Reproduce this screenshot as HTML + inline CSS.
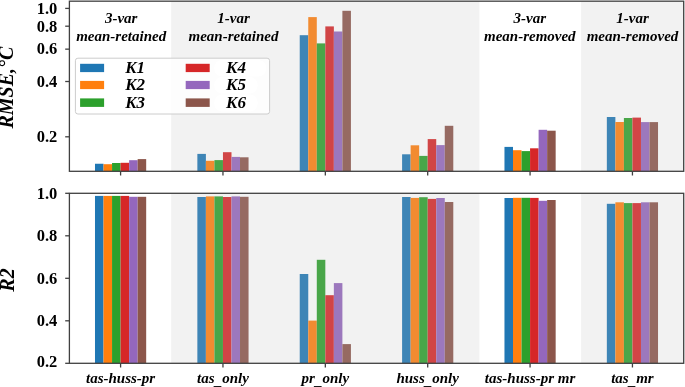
<!DOCTYPE html>
<html><head><meta charset="utf-8"><style>html,body{margin:0;padding:0;background:#fff;width:685px;height:387px;overflow:hidden}svg{display:block;will-change:transform}</style></head>
<body>
<svg width="685" height="387" viewBox="0 0 685 387">
<rect x="0" y="0" width="685" height="387" fill="#fff"/>
<rect x="94.99" y="163.75" width="8.53" height="7.55" fill="#1f77b4"/>
<rect x="103.52" y="164.20" width="8.53" height="7.10" fill="#ff7f0e"/>
<rect x="112.05" y="163.00" width="8.53" height="8.30" fill="#2ca02c"/>
<rect x="120.59" y="162.80" width="8.53" height="8.50" fill="#d62728"/>
<rect x="129.12" y="160.20" width="8.53" height="11.10" fill="#9467bd"/>
<rect x="137.65" y="159.10" width="8.53" height="12.20" fill="#8c564b"/>
<rect x="197.36" y="153.90" width="8.53" height="17.40" fill="#1f77b4"/>
<rect x="205.89" y="160.80" width="8.53" height="10.50" fill="#ff7f0e"/>
<rect x="214.42" y="160.10" width="8.53" height="11.20" fill="#2ca02c"/>
<rect x="222.96" y="152.20" width="8.53" height="19.10" fill="#d62728"/>
<rect x="231.49" y="156.90" width="8.53" height="14.40" fill="#9467bd"/>
<rect x="240.02" y="157.30" width="8.53" height="14.00" fill="#8c564b"/>
<rect x="299.73" y="35.20" width="8.53" height="136.10" fill="#1f77b4"/>
<rect x="308.26" y="17.10" width="8.53" height="154.20" fill="#ff7f0e"/>
<rect x="316.79" y="43.40" width="8.53" height="127.90" fill="#2ca02c"/>
<rect x="325.33" y="26.40" width="8.53" height="144.90" fill="#d62728"/>
<rect x="333.86" y="31.50" width="8.53" height="139.80" fill="#9467bd"/>
<rect x="342.39" y="10.80" width="8.53" height="160.50" fill="#8c564b"/>
<rect x="402.10" y="154.30" width="8.53" height="17.00" fill="#1f77b4"/>
<rect x="410.63" y="145.30" width="8.53" height="26.00" fill="#ff7f0e"/>
<rect x="419.16" y="155.90" width="8.53" height="15.40" fill="#2ca02c"/>
<rect x="427.70" y="139.10" width="8.53" height="32.20" fill="#d62728"/>
<rect x="436.23" y="145.10" width="8.53" height="26.20" fill="#9467bd"/>
<rect x="444.76" y="125.80" width="8.53" height="45.50" fill="#8c564b"/>
<rect x="504.47" y="146.90" width="8.53" height="24.40" fill="#1f77b4"/>
<rect x="513.00" y="150.20" width="8.53" height="21.10" fill="#ff7f0e"/>
<rect x="521.53" y="151.10" width="8.53" height="20.20" fill="#2ca02c"/>
<rect x="530.07" y="148.30" width="8.53" height="23.00" fill="#d62728"/>
<rect x="538.60" y="129.80" width="8.53" height="41.50" fill="#9467bd"/>
<rect x="547.13" y="130.70" width="8.53" height="40.60" fill="#8c564b"/>
<rect x="606.84" y="117.00" width="8.53" height="54.30" fill="#1f77b4"/>
<rect x="615.37" y="122.00" width="8.53" height="49.30" fill="#ff7f0e"/>
<rect x="623.90" y="118.00" width="8.53" height="53.30" fill="#2ca02c"/>
<rect x="632.44" y="117.60" width="8.53" height="53.70" fill="#d62728"/>
<rect x="640.97" y="122.10" width="8.53" height="49.20" fill="#9467bd"/>
<rect x="649.50" y="122.10" width="8.53" height="49.20" fill="#8c564b"/>
<rect x="171.20" y="1.18" width="308.20" height="170.12" fill="#c0c0c0" fill-opacity="0.2"/>
<rect x="581.10" y="1.18" width="102.60" height="170.12" fill="#c0c0c0" fill-opacity="0.2"/>
<rect x="94.99" y="195.90" width="8.53" height="167.40" fill="#1f77b4"/>
<rect x="103.52" y="195.90" width="8.53" height="167.40" fill="#ff7f0e"/>
<rect x="112.05" y="195.90" width="8.53" height="167.40" fill="#2ca02c"/>
<rect x="120.59" y="195.90" width="8.53" height="167.40" fill="#d62728"/>
<rect x="129.12" y="196.80" width="8.53" height="166.50" fill="#9467bd"/>
<rect x="137.65" y="196.80" width="8.53" height="166.50" fill="#8c564b"/>
<rect x="197.36" y="197.00" width="8.53" height="166.30" fill="#1f77b4"/>
<rect x="205.89" y="196.40" width="8.53" height="166.90" fill="#ff7f0e"/>
<rect x="214.42" y="196.40" width="8.53" height="166.90" fill="#2ca02c"/>
<rect x="222.96" y="197.00" width="8.53" height="166.30" fill="#d62728"/>
<rect x="231.49" y="196.40" width="8.53" height="166.90" fill="#9467bd"/>
<rect x="240.02" y="196.80" width="8.53" height="166.50" fill="#8c564b"/>
<rect x="299.73" y="274.00" width="8.53" height="89.30" fill="#1f77b4"/>
<rect x="308.26" y="320.60" width="8.53" height="42.70" fill="#ff7f0e"/>
<rect x="316.79" y="259.80" width="8.53" height="103.50" fill="#2ca02c"/>
<rect x="325.33" y="295.20" width="8.53" height="68.10" fill="#d62728"/>
<rect x="333.86" y="283.10" width="8.53" height="80.20" fill="#9467bd"/>
<rect x="342.39" y="344.10" width="8.53" height="19.20" fill="#8c564b"/>
<rect x="402.10" y="197.00" width="8.53" height="166.30" fill="#1f77b4"/>
<rect x="410.63" y="197.90" width="8.53" height="165.40" fill="#ff7f0e"/>
<rect x="419.16" y="197.20" width="8.53" height="166.10" fill="#2ca02c"/>
<rect x="427.70" y="198.90" width="8.53" height="164.40" fill="#d62728"/>
<rect x="436.23" y="198.00" width="8.53" height="165.30" fill="#9467bd"/>
<rect x="444.76" y="202.00" width="8.53" height="161.30" fill="#8c564b"/>
<rect x="504.47" y="198.00" width="8.53" height="165.30" fill="#1f77b4"/>
<rect x="513.00" y="197.80" width="8.53" height="165.50" fill="#ff7f0e"/>
<rect x="521.53" y="197.80" width="8.53" height="165.50" fill="#2ca02c"/>
<rect x="530.07" y="197.90" width="8.53" height="165.40" fill="#d62728"/>
<rect x="538.60" y="200.80" width="8.53" height="162.50" fill="#9467bd"/>
<rect x="547.13" y="200.00" width="8.53" height="163.30" fill="#8c564b"/>
<rect x="606.84" y="203.80" width="8.53" height="159.50" fill="#1f77b4"/>
<rect x="615.37" y="202.30" width="8.53" height="161.00" fill="#ff7f0e"/>
<rect x="623.90" y="203.10" width="8.53" height="160.20" fill="#2ca02c"/>
<rect x="632.44" y="203.10" width="8.53" height="160.20" fill="#d62728"/>
<rect x="640.97" y="202.30" width="8.53" height="161.00" fill="#9467bd"/>
<rect x="649.50" y="202.30" width="8.53" height="161.00" fill="#8c564b"/>
<rect x="171.20" y="193.30" width="308.20" height="170.00" fill="#c0c0c0" fill-opacity="0.2"/>
<rect x="581.10" y="193.30" width="102.60" height="170.00" fill="#c0c0c0" fill-opacity="0.2"/>
<rect x="69.40" y="1.18" width="614.30" height="170.12" fill="none" stroke="#404040" stroke-width="1.3"/>
<line x1="120.59" y1="171.30" x2="120.59" y2="175.50" stroke="#404040" stroke-width="1.3"/>
<line x1="222.96" y1="171.30" x2="222.96" y2="175.50" stroke="#404040" stroke-width="1.3"/>
<line x1="325.33" y1="171.30" x2="325.33" y2="175.50" stroke="#404040" stroke-width="1.3"/>
<line x1="427.70" y1="171.30" x2="427.70" y2="175.50" stroke="#404040" stroke-width="1.3"/>
<line x1="530.07" y1="171.30" x2="530.07" y2="175.50" stroke="#404040" stroke-width="1.3"/>
<line x1="632.44" y1="171.30" x2="632.44" y2="175.50" stroke="#404040" stroke-width="1.3"/>
<rect x="69.40" y="193.30" width="614.30" height="170.00" fill="none" stroke="#404040" stroke-width="1.3"/>
<line x1="120.59" y1="363.30" x2="120.59" y2="367.50" stroke="#404040" stroke-width="1.3"/>
<line x1="222.96" y1="363.30" x2="222.96" y2="367.50" stroke="#404040" stroke-width="1.3"/>
<line x1="325.33" y1="363.30" x2="325.33" y2="367.50" stroke="#404040" stroke-width="1.3"/>
<line x1="427.70" y1="363.30" x2="427.70" y2="367.50" stroke="#404040" stroke-width="1.3"/>
<line x1="530.07" y1="363.30" x2="530.07" y2="367.50" stroke="#404040" stroke-width="1.3"/>
<line x1="632.44" y1="363.30" x2="632.44" y2="367.50" stroke="#404040" stroke-width="1.3"/>
<line x1="65.20" y1="8.40" x2="69.40" y2="8.40" stroke="#404040" stroke-width="1.3"/>
<text x="57.3" y="13.70" text-anchor="end" style="font-family:'Liberation Serif',serif;font-weight:bold;font-size:16.5px">1.0</text>
<line x1="65.20" y1="26.20" x2="69.40" y2="26.20" stroke="#404040" stroke-width="1.3"/>
<text x="57.3" y="31.50" text-anchor="end" style="font-family:'Liberation Serif',serif;font-weight:bold;font-size:16.5px">0.8</text>
<line x1="65.20" y1="49.15" x2="69.40" y2="49.15" stroke="#404040" stroke-width="1.3"/>
<text x="57.3" y="54.45" text-anchor="end" style="font-family:'Liberation Serif',serif;font-weight:bold;font-size:16.5px">0.6</text>
<line x1="65.20" y1="81.50" x2="69.40" y2="81.50" stroke="#404040" stroke-width="1.3"/>
<text x="57.3" y="86.80" text-anchor="end" style="font-family:'Liberation Serif',serif;font-weight:bold;font-size:16.5px">0.4</text>
<line x1="65.20" y1="136.80" x2="69.40" y2="136.80" stroke="#404040" stroke-width="1.3"/>
<text x="57.3" y="142.10" text-anchor="end" style="font-family:'Liberation Serif',serif;font-weight:bold;font-size:16.5px">0.2</text>
<line x1="65.20" y1="193.30" x2="69.40" y2="193.30" stroke="#404040" stroke-width="1.3"/>
<text x="57.3" y="198.60" text-anchor="end" style="font-family:'Liberation Serif',serif;font-weight:bold;font-size:16.5px">1.0</text>
<line x1="65.20" y1="235.80" x2="69.40" y2="235.80" stroke="#404040" stroke-width="1.3"/>
<text x="57.3" y="241.10" text-anchor="end" style="font-family:'Liberation Serif',serif;font-weight:bold;font-size:16.5px">0.8</text>
<line x1="65.20" y1="278.30" x2="69.40" y2="278.30" stroke="#404040" stroke-width="1.3"/>
<text x="57.3" y="283.60" text-anchor="end" style="font-family:'Liberation Serif',serif;font-weight:bold;font-size:16.5px">0.6</text>
<line x1="65.20" y1="320.80" x2="69.40" y2="320.80" stroke="#404040" stroke-width="1.3"/>
<text x="57.3" y="325.50" text-anchor="end" style="font-family:'Liberation Serif',serif;font-weight:bold;font-size:16.5px">0.4</text>
<line x1="65.20" y1="363.30" x2="69.40" y2="363.30" stroke="#404040" stroke-width="1.3"/>
<text x="57.3" y="367.40" text-anchor="end" style="font-family:'Liberation Serif',serif;font-weight:bold;font-size:16.5px">0.2</text>
<text x="120.59" y="383" text-anchor="middle" style="font-family:'Liberation Serif',serif;font-weight:bold;font-style:italic;font-size:15px">tas-huss-pr</text>
<text x="222.96" y="383" text-anchor="middle" style="font-family:'Liberation Serif',serif;font-weight:bold;font-style:italic;font-size:15px">tas<tspan dy="2.3">_</tspan><tspan dy="-2.3">only</tspan></text>
<text x="325.33" y="383" text-anchor="middle" style="font-family:'Liberation Serif',serif;font-weight:bold;font-style:italic;font-size:15px">pr<tspan dy="2.3">_</tspan><tspan dy="-2.3">only</tspan></text>
<text x="427.70" y="383" text-anchor="middle" style="font-family:'Liberation Serif',serif;font-weight:bold;font-style:italic;font-size:15px">huss<tspan dy="2.3">_</tspan><tspan dy="-2.3">only</tspan></text>
<text x="530.07" y="383" text-anchor="middle" style="font-family:'Liberation Serif',serif;font-weight:bold;font-style:italic;font-size:15px">tas-huss-pr mr</text>
<text x="632.44" y="383" text-anchor="middle" style="font-family:'Liberation Serif',serif;font-weight:bold;font-style:italic;font-size:15px">tas<tspan dy="2.3">_</tspan><tspan dy="-2.3">mr</tspan></text>
<text x="121.20" y="23.1" text-anchor="middle" style="font-family:'Liberation Serif',serif;font-weight:bold;font-style:italic;font-size:15px">3-var</text>
<text x="121.20" y="41" text-anchor="middle" style="font-family:'Liberation Serif',serif;font-weight:bold;font-style:italic;font-size:15px">mean-retained</text>
<text x="233.50" y="23.1" text-anchor="middle" style="font-family:'Liberation Serif',serif;font-weight:bold;font-style:italic;font-size:15px">1-var</text>
<text x="233.50" y="41" text-anchor="middle" style="font-family:'Liberation Serif',serif;font-weight:bold;font-style:italic;font-size:15px">mean-retained</text>
<text x="529.80" y="23.1" text-anchor="middle" style="font-family:'Liberation Serif',serif;font-weight:bold;font-style:italic;font-size:15px">3-var</text>
<text x="529.80" y="41" text-anchor="middle" style="font-family:'Liberation Serif',serif;font-weight:bold;font-style:italic;font-size:15px">mean-removed</text>
<text x="632.50" y="23.1" text-anchor="middle" style="font-family:'Liberation Serif',serif;font-weight:bold;font-style:italic;font-size:15px">1-var</text>
<text x="632.50" y="41" text-anchor="middle" style="font-family:'Liberation Serif',serif;font-weight:bold;font-style:italic;font-size:15px">mean-removed</text>
<text transform="translate(13.3,128.6) rotate(-90)" style="font-family:'Liberation Serif',serif;font-weight:bold;font-style:italic;font-size:20px">RMSE,°C</text>
<text transform="translate(14,291.7) rotate(-90)" style="font-family:'Liberation Serif',serif;font-weight:bold;font-style:italic;font-size:20px">R2</text>
<rect x="75.4" y="58.2" width="194.2" height="55.8" rx="2.5" fill="#fff" fill-opacity="0.8" stroke="#ccc" stroke-width="1"/>
<rect x="214.2" y="60" width="52" height="16.5" rx="8" fill="#fff"/>
<rect x="214.2" y="77" width="43.5" height="16.5" rx="8" fill="#fff"/>
<rect x="214.2" y="94.5" width="43.5" height="17" rx="8" fill="#fff"/>
<rect x="80.1" y="63.8" width="24" height="8.30" fill="#1f77b4"/>
<text x="125.2" y="72.7" style="font-family:'Liberation Serif',serif;font-weight:bold;font-style:italic;font-size:17px">K1</text>
<rect x="80.1" y="80.9" width="24" height="8.20" fill="#ff7f0e"/>
<text x="125.2" y="89.8" style="font-family:'Liberation Serif',serif;font-weight:bold;font-style:italic;font-size:17px">K2</text>
<rect x="80.1" y="98.4" width="24" height="8.50" fill="#2ca02c"/>
<text x="125.2" y="107.5" style="font-family:'Liberation Serif',serif;font-weight:bold;font-style:italic;font-size:17px">K3</text>
<rect x="185.7" y="63.8" width="24" height="8.30" fill="#d62728"/>
<text x="226.1" y="72.7" style="font-family:'Liberation Serif',serif;font-weight:bold;font-style:italic;font-size:17px">K4</text>
<rect x="185.7" y="80.9" width="24" height="8.20" fill="#9467bd"/>
<text x="226.1" y="89.8" style="font-family:'Liberation Serif',serif;font-weight:bold;font-style:italic;font-size:17px">K5</text>
<rect x="185.7" y="98.4" width="24" height="8.50" fill="#8c564b"/>
<text x="226.1" y="107.5" style="font-family:'Liberation Serif',serif;font-weight:bold;font-style:italic;font-size:17px">K6</text>
</svg>
</body></html>
